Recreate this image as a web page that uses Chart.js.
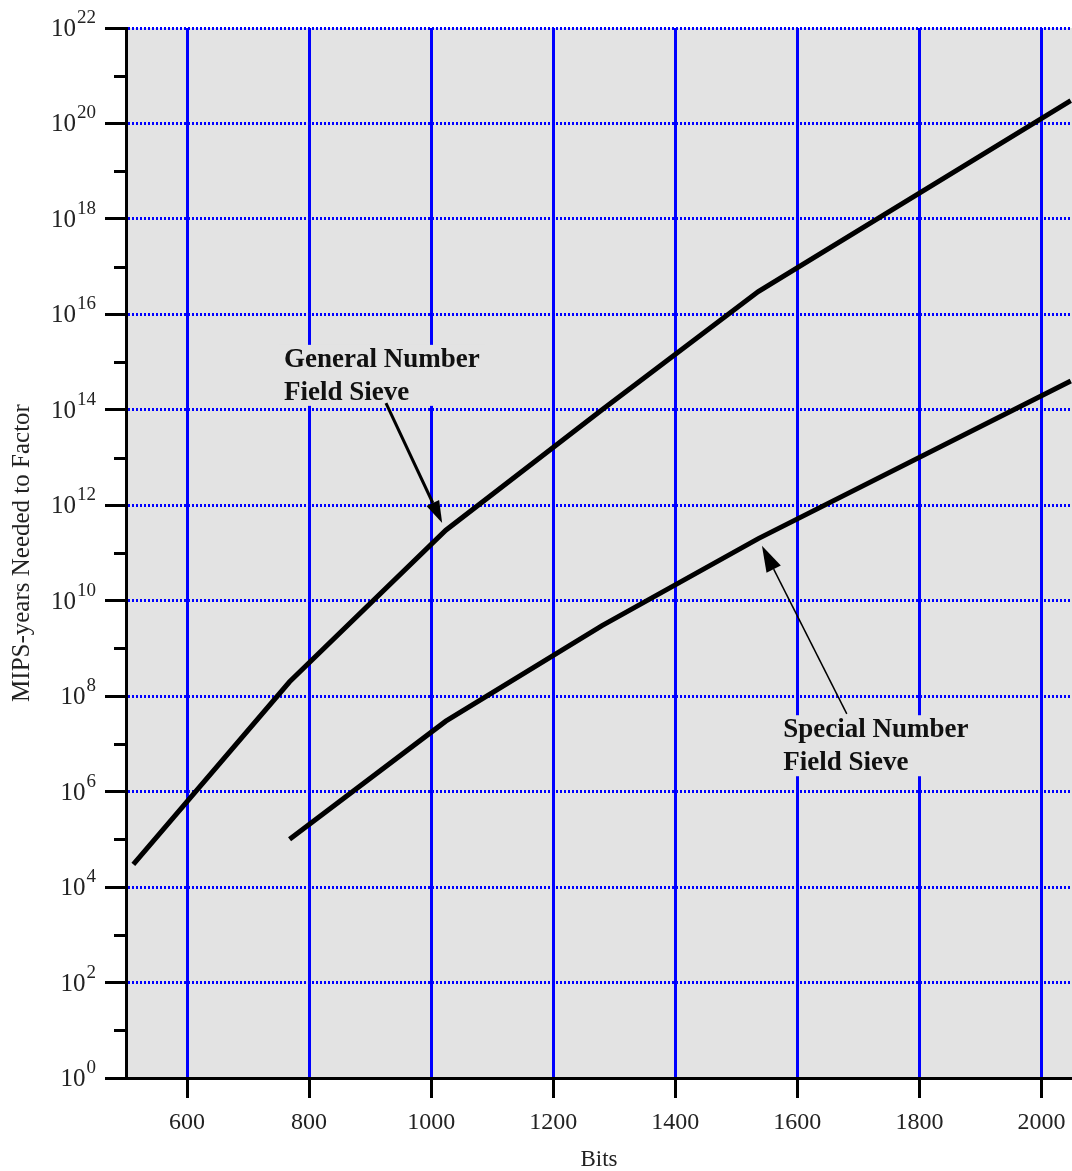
<!DOCTYPE html>
<html>
<head>
<meta charset="utf-8">
<title>MIPS-years Needed to Factor</title>
<script src="https://cdn.jsdelivr.net/npm/chart.js@4"></script>
<style>
  html, body { margin: 0; padding: 0; background: #fff; }
</style>
</head>
<body>
<canvas id="factorChart" width="1072" height="1171"></canvas>
<script>
// key sizes (bits) and estimated MIPS-years
const gnfsBits = [512, 768, 1024, 1280, 1536, 2048]
const gnfsMipsYears = [3e4, 2e8, 3e11, 1e14, 3e16, 3e20]
const snfsBits = [768, 1024, 1280, 1536, 2048]
const snfsMipsYears = [1e5, 3e7, 3e9, 2e11, 4e14]

const xTickValues = [600, 800, 1000, 1200, 1400, 1600, 1800, 2000]
const yExponents = [0, 1, 2, 3, 4, 5, 6, 7, 8, 9, 10, 11, 12, 13, 14, 15, 16, 17, 18, 19, 20, 21, 22]
const yLabelExponents = [0, 2, 4, 6, 8, 10, 12, 14, 16, 18, 20, 22]

const BLUE = '#0000ff'
const NONE = 'rgba(0,0,0,0)'
const SERIF = '"Liberation Serif", "Times New Roman", serif'

const expOf = (v) => Math.round(Math.log10(v))

/**
 * Gray plot area behind everything.
 */
const plotBackground = {
  id: 'plotBackground',
  beforeDraw (chart) {
    const { ctx, chartArea: a } = chart
    ctx.save()
    ctx.fillStyle = '#e3e3e3'
    ctx.fillRect(a.left, a.top, a.right - a.left, a.bottom - a.top)
    ctx.restore()
  }
}

/**
 * 10^n labels and the short minor ticks on the y axis.
 */
const powerLabels = {
  id: 'powerLabels',
  afterDraw (chart) {
    const { ctx } = chart
    const y = chart.scales.y
    ctx.save()
    ctx.strokeStyle = '#000'
    ctx.lineWidth = 3
    yExponents.filter(e => e % 2 === 1).forEach(e => {
      const py = Math.round(y.getPixelForValue(10 ** e)) + 0.5
      ctx.beginPath()
      ctx.moveTo(y.right - 12, py)
      ctx.lineTo(y.right, py)
      ctx.stroke()
    })
    ctx.fillStyle = '#222'
    ctx.textBaseline = 'alphabetic'
    yLabelExponents.forEach(e => {
      const py = y.getPixelForValue(10 ** e)
      const sup = String(e)
      ctx.font = '19px ' + SERIF
      const w = ctx.measureText(sup).width
      ctx.textAlign = 'left'
      ctx.fillText(sup, 96 - w, py - 5)
      ctx.font = '25px ' + SERIF
      ctx.textAlign = 'right'
      ctx.fillText('10', 96 - w - 1, py + 8)
    })
    ctx.restore()
  }
}

// callouts, placed in data units
const callouts = [
  {
    lines: ['General Number', 'Field Sieve'],
    at: [759, 10 ** 14.9],
    tail: [926, 10 ** 14.14],
    tip: [1018, 10 ** 11.63],
    lineWidth: 3,
    head: [22, 7]
  },
  {
    lines: ['Special Number', 'Field Sieve'],
    at: [1577, 10 ** 7.14],
    tail: [1681, 10 ** 7.63],
    tip: [1542, 10 ** 11.15],
    lineWidth: 1.5,
    head: [26, 8]
  }
]

/**
 * Labels with a gray box that hides the grid, then the arrows.
 */
const calloutPlugin = {
  id: 'callouts',
  beforeDatasetsDraw (chart) {
    const { ctx, scales: { x, y } } = chart
    ctx.save()
    ctx.font = 'bold 27px ' + SERIF
    callouts.forEach(c => {
      const px = x.getPixelForValue(c.at[0])
      const py = y.getPixelForValue(c.at[1])
      const w = Math.max(...c.lines.map(t => ctx.measureText(t).width))
      ctx.fillStyle = '#e3e3e3'
      ctx.fillRect(px - 6, py - 22, w + 12, 33 * (c.lines.length - 1) + 28)
      ctx.fillStyle = '#111'
      ctx.textAlign = 'left'
      ctx.textBaseline = 'alphabetic'
      c.lines.forEach((t, i) => ctx.fillText(t, px, py + i * 33))
    })
    ctx.restore()
  },
  afterDatasetsDraw (chart) {
    const { ctx, scales: { x, y } } = chart
    ctx.save()
    ctx.strokeStyle = '#000'
    ctx.fillStyle = '#000'
    callouts.forEach(c => {
      const x0 = x.getPixelForValue(c.tail[0])
      const y0 = y.getPixelForValue(c.tail[1])
      const x1 = x.getPixelForValue(c.tip[0])
      const y1 = y.getPixelForValue(c.tip[1])
      const len = Math.hypot(x1 - x0, y1 - y0)
      const dx = (x1 - x0) / len
      const dy = (y1 - y0) / len
      const bx = x1 - dx * c.head[0]
      const by = y1 - dy * c.head[0]
      ctx.lineWidth = c.lineWidth
      ctx.beginPath()
      ctx.moveTo(x0, y0)
      ctx.lineTo(bx, by)
      ctx.stroke()
      ctx.beginPath()
      ctx.moveTo(x1, y1)
      ctx.lineTo(bx - dy * c.head[1], by + dx * c.head[1])
      ctx.lineTo(bx + dy * c.head[1], by - dx * c.head[1])
      ctx.closePath()
      ctx.fill()
    })
    ctx.restore()
  }
}

const toPoints = (xs, ys) => xs.map((b, i) => ({ x: b, y: ys[i] }))

const ctx = document.getElementById('factorChart').getContext('2d')
window.myChart = new Chart(ctx, {
  type: 'line',
  data: {
    datasets: [
      {
        label: 'General Number Field Sieve',
        data: toPoints(gnfsBits, gnfsMipsYears),
        borderColor: '#000',
        borderWidth: 5,
        pointRadius: 0,
        tension: 0
      },
      {
        label: 'Special Number Field Sieve',
        data: toPoints(snfsBits, snfsMipsYears),
        borderColor: '#000',
        borderWidth: 5,
        pointRadius: 0,
        tension: 0
      }
    ]
  },
  options: {
    responsive: false,
    animation: false,
    layout: { padding: { top: 28, right: 0, bottom: 0, left: 0 } },
    plugins: {
      legend: { display: false },
      tooltip: { enabled: false }
    },
    scales: {
      x: {
        type: 'linear',
        min: 500,
        max: 2050,
        afterBuildTicks: (scale) => { scale.ticks = xTickValues.map(v => ({ value: v })) },
        afterFit: (scale) => {
          scale.height = 93
          scale.paddingLeft = 0
          scale.paddingRight = 0
        },
        grid: {
          color: BLUE,
          lineWidth: 3,
          tickColor: '#000',
          tickWidth: 3,
          tickLength: 20
        },
        border: { color: '#000', width: 3 },
        ticks: {
          font: { family: SERIF, size: 24 },
          color: '#222',
          padding: 10,
          maxRotation: 0,
          callback: (v) => String(v)
        },
        title: {
          display: true,
          text: 'Bits',
          font: { family: SERIF, size: 23 },
          color: '#222',
          padding: { top: 0, bottom: -3 }
        }
      },
      y: {
        type: 'logarithmic',
        min: 1,
        max: 1e22,
        afterBuildTicks: (scale) => { scale.ticks = yExponents.map(e => ({ value: 10 ** e })) },
        afterFit: (scale) => { scale.width = 126 },
        grid: {
          color: (c) => {
            if (!c.tick) return NONE
            const e = expOf(c.tick.value)
            return (e % 2 === 0 && e > 0) ? BLUE : NONE
          },
          lineWidth: 3,
          tickColor: (c) => (c.tick && expOf(c.tick.value) % 2 === 0) ? '#000' : NONE,
          tickWidth: 3,
          tickLength: 21
        },
        border: { color: '#000', width: 3, dash: [2, 2] },
        ticks: { display: false },
        title: {
          display: true,
          text: 'MIPS-years Needed to Factor',
          font: { family: SERIF, size: 25 },
          color: '#222',
          padding: { top: 7, bottom: 0 }
        }
      }
    }
  },
  plugins: [plotBackground, calloutPlugin, powerLabels]
})
</script>
</body>
</html>
